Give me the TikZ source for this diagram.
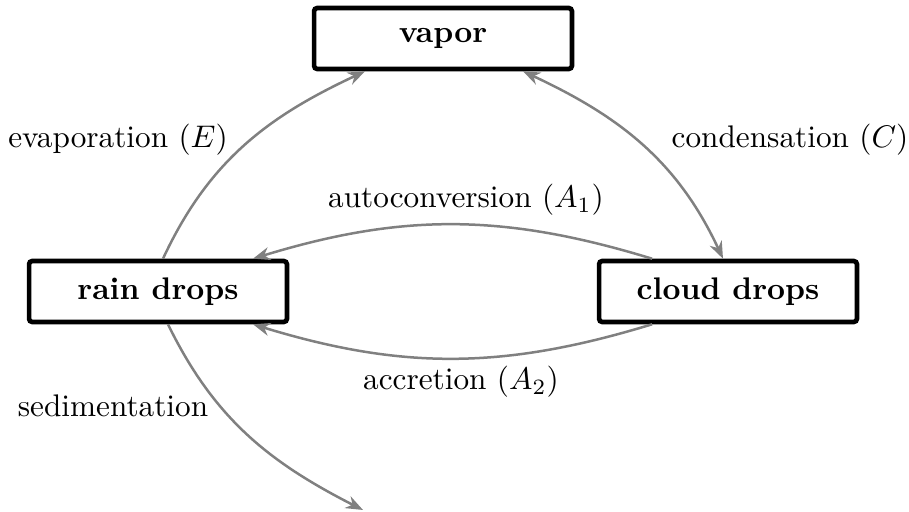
\documentclass[tikz,border=0pt]{standalone}
\usetikzlibrary{arrows.meta,calc}
\begin{document}
\begin{tikzpicture}[x=0.32pt,y=0.32pt,
  >={Stealth[length=5.5pt,width=4.2pt]},
  box/.style={draw, line width=1.5pt, rounded corners=1pt, minimum width=82.5pt, minimum height=19.5pt, font=\bfseries, inner sep=0pt, fill=white},
  flow/.style={draw=black!50, line width=0.8pt},
  lbl/.style={inner sep=0pt}]
\useasboundingbox (0,0) rectangle (909,512);
\node[box] (vapor) at (443,473.5) {vapor};
\node[box] (rain) at (158,220.5) {rain drops};
\node[box] (cloud) at (728,220.5) {cloud drops};
\coordinate (sedend) at (363,2);
\draw[flow,->] ($(rain.north)+(5,0)$) to[out=65,in=205] ($(vapor.south)+(-78,0)$);
\draw[flow,<->] ($(vapor.south)+(80,0)$) to[out=-25,in=115] ($(cloud.north)+(-5,0)$);
\draw[flow,->] ($(cloud.north)+(-76,0)$) to[out=163,in=17] ($(rain.north)+(95,0)$);
\draw[flow,->] ($(cloud.south)+(-76,0)$) to[out=197,in=-17] ($(rain.south)+(95,0)$);
\draw[flow,->] ($(rain.south)+(10,0)$) to[out=-64,in=153] (sedend);
\node[lbl] (evl) at (118,372) {evaporation ($E$)};
\node[lbl] (cdl) at (790,372) {condensation ($C$)};
\node[lbl] (acl) at (466,312) {autoconversion ($A_1$)};
\node[lbl] (arl) at (461,130) {accretion ($A_2$)};
\node[lbl] (sdl) at (113,106) {sedimentation};
\end{tikzpicture}
\end{document}
